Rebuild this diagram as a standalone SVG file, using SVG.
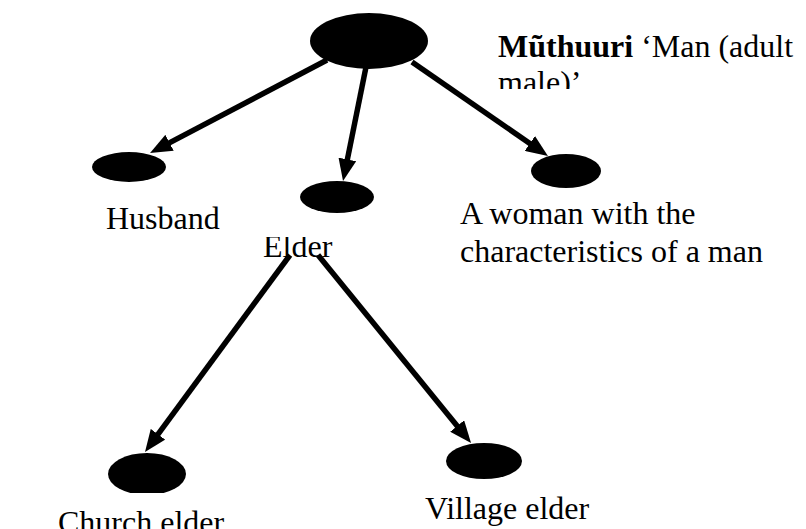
<svg xmlns="http://www.w3.org/2000/svg" width="806" height="529" viewBox="0 0 806 529">
  <style>
    .node { fill: #000; }
    .label { font-family: "Liberation Serif", "Times New Roman", serif; font-size: 32px; fill: #000; }
    .bold { font-weight: bold; }
    .edge { stroke: #000; stroke-width: 5.5; fill: none; marker-end: url(#head); }
  </style>
  <defs>
    <marker id="head" markerUnits="userSpaceOnUse" markerWidth="22" markerHeight="18" refX="11" refY="9" orient="auto">
      <path d="M0,0 L22,9 L0,18 z" fill="#000"/>
    </marker>
    <clipPath id="clip-root-text"><rect x="480" y="0" width="326" height="89"/></clipPath>
    <clipPath id="clip-elder-text"><rect x="250" y="237" width="120" height="40"/></clipPath>
    <clipPath id="clip-church"><rect x="100" y="440" width="100" height="53"/></clipPath>
  </defs>
  <rect width="806" height="529" fill="#fff"/>

  <g id="root">
    <ellipse class="node" cx="369" cy="41" rx="59" ry="28"/>
    <text class="label" x="498" y="57" clip-path="url(#clip-root-text)"><tspan class="bold">Mũthuuri</tspan> ‘Man (adult<tspan x="498" y="93">male)’</tspan></text>
  </g>

  <g id="husband">
    <ellipse class="node" cx="129" cy="167" rx="37" ry="15"/>
    <text class="label" x="106" y="229">Husband</text>
  </g>

  <g id="elder">
    <ellipse class="node" cx="337" cy="197" rx="37" ry="16"/>
    <text class="label" x="263" y="257" clip-path="url(#clip-elder-text)">Elder</text>
  </g>

  <g id="woman">
    <ellipse class="node" cx="566" cy="171" rx="35" ry="17"/>
    <text class="label" x="460" y="224">A woman with the</text>
    <text class="label" x="460" y="262">characteristics of a man</text>
  </g>

  <g id="church-elder">
    <ellipse class="node" cx="147" cy="474" rx="39" ry="21" clip-path="url(#clip-church)"/>
    <text class="label" x="58" y="533">Church elder</text>
  </g>

  <g id="village-elder">
    <ellipse class="node" cx="484" cy="461" rx="38" ry="18"/>
    <text class="label" x="425" y="519">Village elder</text>
  </g>

  <g id="connectors">
    <line class="edge" x1="327" y1="60" x2="159.8" y2="147.9"/>
    <line class="edge" x1="366" y1="67" x2="345.2" y2="170.2"/>
    <line class="edge" x1="412" y1="62" x2="538.9" y2="149.7"/>
    <line class="edge" x1="290" y1="255" x2="151.5" y2="443.1"/>
    <line class="edge" x1="318" y1="255" x2="464.1" y2="434.5"/>
  </g>
</svg>
